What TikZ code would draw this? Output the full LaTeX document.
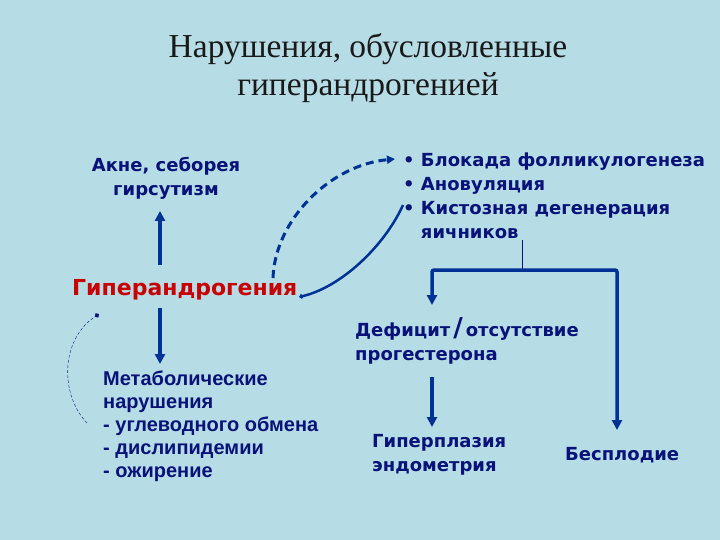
\documentclass[tikz,border=0pt]{standalone}
\usepackage{fontspec}
\setmainfont{Liberation Serif}
\newfontfamily\verd{DejaVu Sans}
\newfontfamily\ari{Liberation Sans}
\usetikzlibrary{arrows.meta}

\definecolor{bgblue}{RGB}{182,220,230}
\definecolor{navy}{RGB}{8,18,120}
\definecolor{arrowblue}{RGB}{0,50,150}
\definecolor{hared}{RGB}{200,0,0}

\begin{document}
\begin{tikzpicture}[x=1pt,y=-1pt,
  txt/.style={text=navy,font=\verd\bfseries\fontsize{18}{24}\selectfont,inner sep=0pt},
  link/.style={arrowblue,line width=3.5pt,-{Triangle[length=10pt,width=10pt]}}]
% Background
\fill[bgblue] (0,0) rectangle (720,540);

% Title
\node[font=\fontsize{33.5}{38}\selectfont,text={black!90},align=center] (title) at (368,68)
  {Нарушения, обусловленные\\гиперандрогенией};

% Texts
\node[txt,align=center] (akne) at (166,178) {Акне, себорея\\гирсутизм};
\node[txt,text=hared,font=\verd\bfseries\fontsize{22}{24}\selectfont,anchor=west] (hyper) at (72,290) {Гиперандрогения};
\node[txt,align=left,anchor=west] (lst) at (403,196)
  {\textbullet\ Блокада фолликулогенеза\\\textbullet\ Ановуляция\\\textbullet\ Кистозная дегенерация\\\phantom{\textbullet\ }яичников};
\node[txt,align=left,anchor=west] (defic) at (355,341)
  {Дефицит\,{\fontsize{26}{24}\selectfont/}\,отсутствие\\прогестерона};
\node[txt,font=\ari\bfseries\fontsize{20}{23}\selectfont,align=left,anchor=west] (metab) at (103,426)
  {Метаболические\\нарушения\\- углеводного обмена\\- дислипидемии\\- ожирение};
\node[txt,align=left,anchor=west] (hyperpl) at (372,455) {Гиперплазия\\эндометрия};
\node[txt,anchor=west] (besp) at (565,455) {Бесплодие};

% Arrow ends
\coordinate (upa) at (160,265);
\coordinate (upb) at (160,211);
\coordinate (dna) at (160,308);
\coordinate (dnb) at (160,364);
\coordinate (forktop) at (522,240);
\coordinate (fork) at (522,270);
\coordinate (lfoot) at (432,305);
\coordinate (rfoot) at (617,430);
\coordinate (pa) at (432,377);
\coordinate (pb) at (432,427);
\coordinate (dsh) at (273,278);
\coordinate (dshend) at (395,159);
\coordinate (sol) at (299,297);
\coordinate (solend) at (403,205);
\coordinate (fb) at (87,423);
\coordinate (fbend) at (99,314);

% Straight arrows
\draw[link] (upa) -- (upb);
\draw[link] (dna) -- (dnb);
\draw[link] (pa) -- (pb);
\draw[navy,thin] (forktop) -- (fork);
\draw[link,rounded corners=2pt] (fork) -| (lfoot);
\draw[link,rounded corners=2pt] (fork) -| (rfoot);

% Curved arrows
\draw[arrowblue,line width=3pt,dash pattern=on 8pt off 5pt,-{Triangle[length=8pt,width=8pt]}]
  (dsh) .. controls (275,220) and (330,165) .. (dshend);
\draw[arrowblue,line width=2.5pt,{Turned Square[length=5pt,width=5pt]}-]
  (sol) .. controls (342,287) and (385,245) .. (solend);
\draw[navy,thin,dash pattern=on 3pt off 2pt,-{Turned Square[length=5pt,width=5pt]}]
  (fb) .. controls (60,395) and (60,340) .. (fbend);
\end{tikzpicture}
\end{document}
